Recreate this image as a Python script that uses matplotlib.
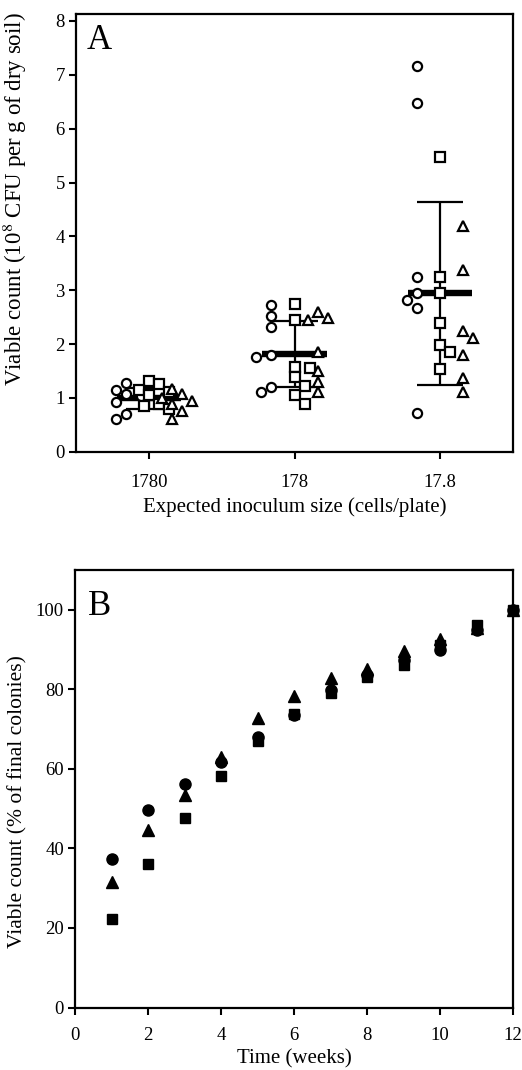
import numpy as np
import matplotlib
matplotlib.use("Agg")
import matplotlib.pyplot as plt

plt.rcParams['font.family'] = ['Liberation Serif', 'DejaVu Serif']
plt.rcParams['mathtext.fontset'] = 'stix'

# ---------------- Panel A data ----------------
groups_A = ["1780", "178", "17.8"]
circles_A = [
    [1.28, 1.15, 1.08, 1.03, 0.92, 0.70, 0.60],
    [2.72, 2.52, 2.32, 1.80, 1.75, 1.20, 1.10],
    [7.17, 6.47, 3.24, 2.94, 2.82, 2.67, 0.71],
]
squares_A = [
    [1.32, 1.25, 1.15, 1.10, 1.05, 0.88, 0.85, 0.80],
    [2.75, 2.45, 1.58, 1.55, 1.38, 1.22, 1.05, 0.88],
    [5.48, 3.24, 2.94, 2.39, 1.99, 1.85, 1.54],
]
triangles_A = [
    [1.17, 1.07, 1.00, 0.95, 0.89, 0.76, 0.61],
    [2.60, 2.48, 2.45, 1.85, 1.50, 1.30, 1.10],
    [4.20, 3.37, 2.24, 2.12, 1.80, 1.37, 1.11],
]
means_A = [0.99, 1.81, 2.94]
sd_A = [0.20, 0.61, 1.70]

# ---------------- Panel B data ----------------
weeks = [1, 2, 3, 4, 5, 6, 7, 8, 9, 10, 11, 12]
circles_B = [37.4, 49.6, 56.3, 61.8, 68.0, 73.6, 79.8, 83.5, 87.3, 90.0, 95.0, 100]
triangles_B = [31.5, 44.7, 53.4, 63.0, 72.8, 78.3, 82.8, 85.2, 89.6, 92.6, 95.5, 100]
squares_B = [22.2, 36.1, 47.7, 58.3, 67.1, 73.7, 79.2, 83.0, 86.2, 91.2, 96.2, 100]

W, H = 522, 1070
fig = plt.figure(figsize=(W / 100, H / 100), dpi=100)

axA = fig.add_axes([76 / W, 1 - 451.7 / H, 437 / W, 437.7 / H])
axB = fig.add_axes([75 / W, 1 - 1007.5 / H, 438 / W, 437.5 / H])

for ax in (axA, axB):
    for sp in ax.spines.values():
        sp.set_linewidth(1.6)
    ax.tick_params(axis='both', which='both', direction='out', length=5, width=1.5,
                   labelsize=13.5, top=False, right=False, pad=3)

# ---- Panel A ----
ylimA = (0, 8.13)
xlimA = (0.5, 3.5)
axA.set_xlim(*xlimA)
axA.set_ylim(*ylimA)
px_per_x = 437 / (xlimA[1] - xlimA[0])
px_per_y = 437.7 / (ylimA[1] - ylimA[0])


def swarm(vals, center, direction, diam_px=10.5, step_px=5.0):
    vals = np.asarray(vals, float)
    xs = np.empty(len(vals))
    placed = []
    cands = [0]
    for k in range(1, 14):
        if direction < 0:
            cands += [-k, k]
        else:
            cands += [k, -k]
    for i in np.argsort(-vals):
        y = vals[i]
        for c in cands:
            x = center + c * step_px / px_per_x
            ok = True
            for (pxv, pyv) in placed:
                dx = (x - pxv) * px_per_x
                dy = (y - pyv) * px_per_y
                if dx * dx + dy * dy < diam_px ** 2:
                    ok = False
                    break
            if ok:
                break
        placed.append((x, y))
        xs[i] = x
    return xs


offsets = {'o': -0.16, 's': 0.0, '^': 0.16}
dirs = {'o': -1, 's': 1, '^': 1}
for gi in range(3):
    g = gi + 1
    m, s = means_A[gi], sd_A[gi]
    axA.vlines(g, m - s, m + s, color='black', lw=1.6, zorder=2)
    axA.hlines([m - s, m + s], g - 0.16, g + 0.16, color='black', lw=1.6, zorder=2)
    axA.hlines(m, g - 0.22, g + 0.22, color='black', lw=4.6, zorder=2)
    for mk, data in (('o', circles_A), ('s', squares_A), ('^', triangles_A)):
        vals = data[gi]
        xs = swarm(vals, g + offsets[mk], dirs[mk])
        axA.plot(xs, vals, linestyle='none', marker=mk, ms=6.6 if mk != '^' else 7.2,
                 mfc='white', mec='black', mew=1.6, zorder=3)

axA.set_xticks([1, 2, 3])
axA.set_xticklabels(groups_A)
axA.set_yticks(range(0, 9))
axA.tick_params(axis='x', pad=11)
axA.set_xlabel("Expected inoculum size (cells/plate)", fontsize=15)
axA.set_ylabel("Viable count (10$^{8}$ CFU per g of dry soil)", fontsize=16.5)
axA.xaxis.set_label_coords(0.5, -0.103)
axA.yaxis.set_label_coords(-0.108, 0.576)
axA.text(0.025, 0.978, "A", transform=axA.transAxes, fontsize=25, va='top', ha='left')

# ---- Panel B ----
axB.set_xlim(0, 12)
axB.set_ylim(0, 110)
axB.plot(weeks, circles_B, linestyle='none', marker='o', ms=8, color='black', clip_on=False, zorder=3)
axB.plot(weeks, triangles_B, linestyle='none', marker='^', ms=8.5, color='black', clip_on=False, zorder=3)
axB.plot(weeks, squares_B, linestyle='none', marker='s', ms=7.5, color='black', clip_on=False, zorder=4)
axB.set_xticks(range(0, 13, 2))
axB.set_yticks(range(0, 101, 20))
axB.tick_params(axis='x', pad=9)
axB.set_xlabel("Time (weeks)", fontsize=15)
axB.set_ylabel("Viable count (% of final colonies)", fontsize=15.5)
axB.xaxis.set_label_coords(0.5, -0.095)
axB.yaxis.set_label_coords(-0.108, 0.47)
axB.text(0.03, 0.955, "B", transform=axB.transAxes, fontsize=25, va='top', ha='left')

fig.savefig("out.png", dpi=100)
